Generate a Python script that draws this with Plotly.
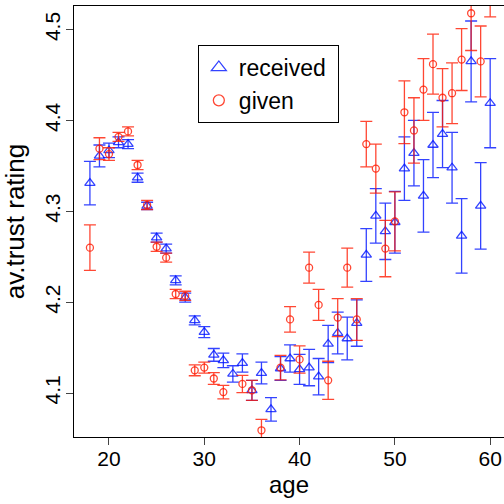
import plotly.graph_objects as go

ages = list(range(18, 61))

received = [4.331, 4.361, 4.367, 4.376, 4.374, 4.337, 4.306, 4.271, 4.259, 4.224,
            4.205, 4.180, 4.167, 4.142, 4.136, 4.121, 4.133, 4.103, 4.122, 4.082,
            4.127, 4.138, 4.126, 4.128, 4.118, 4.154, 4.166, 4.160, 4.177, 4.252,
            4.295, 4.278, 4.288, 4.347, 4.364, 4.317, 4.373, 4.385, 4.348, 4.273,
            4.465, 4.306, 4.419]
received_err = [0.024, 0.012, 0.008, 0.006, 0.005, 0.005, 0.004, 0.005, 0.005, 0.005,
                0.005, 0.005, 0.006, 0.007, 0.008, 0.009, 0.010, 0.011, 0.012, 0.013,
                0.013, 0.015, 0.0165, 0.020, 0.020, 0.0205, 0.023, 0.0235, 0.0255, 0.029,
                0.030, 0.031, 0.034, 0.035, 0.036, 0.040, 0.036, 0.037, 0.039, 0.041,
                0.0445, 0.0477, 0.049]

given = [4.260, 4.369, 4.363, 4.382, 4.388, 4.351, 4.307, 4.261, 4.249, 4.209,
         4.207, 4.125, 4.128, 4.116, 4.101, None, 4.110, 4.103, 4.059, None,
         4.128, 4.181, 4.137, 4.238, 4.197, 4.114, 4.183, 4.238, 4.181, 4.374,
         4.347, 4.259, 4.289, 4.409, 4.389, 4.434, 4.462, 4.425, 4.430, 4.467,
         4.518, 4.465, 4.555]
given_err = [0.025, 0.012, 0.007, 0.005, 0.005, 0.005, 0.005, 0.005, 0.005, 0.005,
             0.005, 0.006, 0.006, 0.0065, 0.0075, 0.0, 0.0095, 0.011, 0.012, 0.0,
             0.0135, 0.014, 0.015, 0.017, 0.017, 0.021, 0.021, 0.0215, 0.023, 0.025,
             0.027, 0.031, 0.0325, 0.0345, 0.036, 0.034, 0.033, 0.032, 0.0335, 0.034,
             0.041, 0.039, 0.041]

x_ticks = [20, 30, 40, 50, 60]
y_ticks = [4.1, 4.2, 4.3, 4.4, 4.5]

BLUE = "rgba(0,20,255,0.8)"
RED = "rgba(255,25,0,0.8)"
FONT = "Liberation Sans, Arial, sans-serif"

fig = go.Figure()

fig.add_trace(go.Scatter(
    x=ages, y=received, mode="markers", name="received", showlegend=False,
    marker=dict(symbol="triangle-up-open", size=9, color=BLUE, line=dict(width=1.3, color=BLUE)),
    error_y=dict(type="data", array=received_err, visible=True, color=BLUE, thickness=1.3, width=6),
))
fig.add_trace(go.Scatter(
    x=ages, y=given, mode="markers", name="given", showlegend=False,
    marker=dict(symbol="circle-open", size=7, color=RED, line=dict(width=1.3, color=RED)),
    error_y=dict(type="data", array=given_err, visible=True, color=RED, thickness=1.3, width=6),
))
# legend entries
fig.add_trace(go.Scatter(
    x=[None], y=[None], mode="markers", name="received\u00a0",
    marker=dict(symbol="triangle-up-open", size=13, color=BLUE, line=dict(width=1.3, color=BLUE)),
))
fig.add_trace(go.Scatter(
    x=[None], y=[None], mode="markers", name="given",
    marker=dict(symbol="circle-open", size=11, color=RED, line=dict(width=1.3, color=RED)),
))

fig.update_layout(
    width=504, height=504,
    margin=dict(l=74, r=0, t=6, b=67),
    paper_bgcolor="white", plot_bgcolor="white",
    font=dict(family=FONT, size=21, color="black"),
    showlegend=True,
    legend=dict(x=0.288, y=0.9095, xanchor="left", yanchor="top",
                bordercolor="black", borderwidth=1, bgcolor="white",
                font=dict(size=23, family=FONT), tracegroupgap=0),
    xaxis=dict(range=[16.33, 61.45], tickvals=x_ticks, ticks="outside", ticklen=7,
               showgrid=False, zeroline=False, showline=True, linecolor="black",
               linewidth=1, mirror=True, tickfont=dict(size=21), ticklabelstandoff=-4,
               title=dict(text="age", font=dict(size=24), standoff=6)),
    yaxis=dict(range=[4.0516, 4.526], tickvals=y_ticks, ticktext=[str(v) for v in y_ticks],
               ticks="outside", ticklen=7, tickangle=-90, ticklabelstandoff=-2,
               showgrid=False, zeroline=False, showline=True, linecolor="black",
               linewidth=1, mirror=False, tickfont=dict(size=21),
               title=dict(text="av.trust rating", font=dict(size=26), standoff=8)),
)

fig.write_html("out.html")
